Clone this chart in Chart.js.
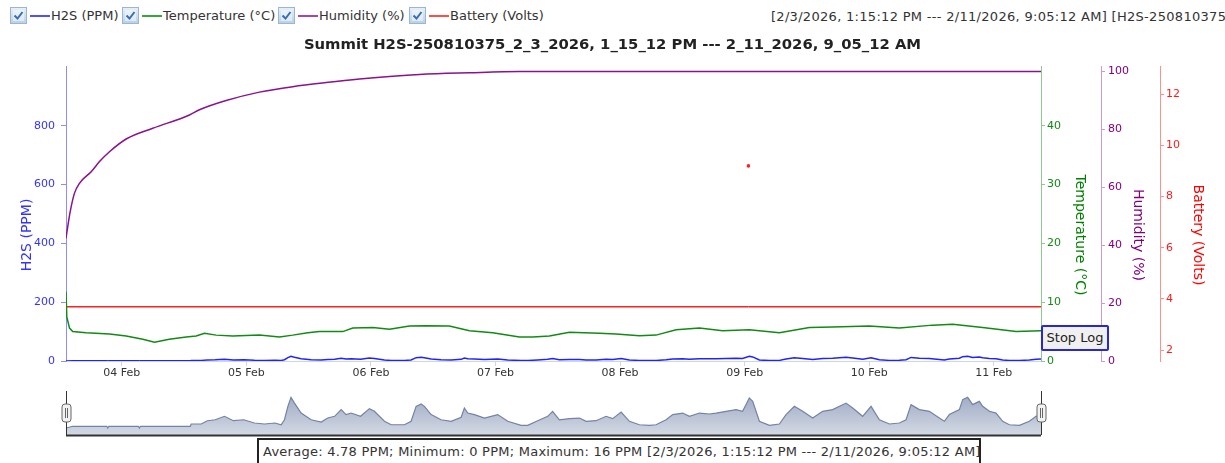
<!DOCTYPE html>
<html>
<head>
<meta charset="utf-8">
<script src="https://cdn.jsdelivr.net/npm/chart.js@4.4.1/dist/chart.umd.min.js"></script>
<style>
html,body{margin:0;padding:0;background:#fff;}
body{width:1225px;height:463px;overflow:hidden;position:relative;font-family:'DejaVu Sans',Verdana,sans-serif;color:#333;}
.li{position:absolute;top:7px;height:17px;display:flex;align-items:center;font-size:13px;white-space:nowrap;}
.cb{width:15px;height:15px;border:1px solid #9db6cf;background:linear-gradient(#e6eff8,#b9d1e9);position:relative;margin-right:3px;flex:none;}
.cb svg{position:absolute;left:0;top:0;}
.ln{width:20px;height:2px;margin-right:1px;flex:none;}
#range{position:absolute;left:771px;top:9px;font-size:13px;line-height:16px;letter-spacing:0.3px;white-space:nowrap;}
#main{position:absolute;left:0;top:0;}
#nav{position:absolute;left:0;top:388px;}
#stats{position:absolute;left:257px;top:438px;width:724px;height:32px;box-sizing:border-box;border:2px solid #222;font-size:13px;line-height:16px;letter-spacing:0.25px;white-space:nowrap;padding:4px 0 0 4px;background:#fff;}
#stop{position:absolute;left:1041px;top:325px;width:68px;height:26px;box-sizing:border-box;border:2px solid #2626e0;border-radius:2px;background:#f0f0f0;font-size:13px;line-height:22px;text-align:center;color:#222;}
</style>
</head>
<body>
<div class="li" style="left:10px"><div class="cb"><svg width="15" height="15"><rect x="2" y="2" width="11" height="11" fill="#f4f8fc" opacity="0.6"/><path d="M3.5 7.5 L6.5 10.5 L11.5 4" stroke="#3b6fb0" stroke-width="2" fill="none"/></svg></div><div class="ln" style="background:#5050ff"></div><span>H2S (PPM)</span></div>
<div class="li" style="left:122px"><div class="cb"><svg width="15" height="15"><rect x="2" y="2" width="11" height="11" fill="#f4f8fc" opacity="0.6"/><path d="M3.5 7.5 L6.5 10.5 L11.5 4" stroke="#3b6fb0" stroke-width="2" fill="none"/></svg></div><div class="ln" style="background:#3aa63a"></div><span>Temperature (°C)</span></div>
<div class="li" style="left:278px"><div class="cb"><svg width="15" height="15"><rect x="2" y="2" width="11" height="11" fill="#f4f8fc" opacity="0.6"/><path d="M3.5 7.5 L6.5 10.5 L11.5 4" stroke="#3b6fb0" stroke-width="2" fill="none"/></svg></div><div class="ln" style="background:#a545b0"></div><span>Humidity (%)</span></div>
<div class="li" style="left:409px"><div class="cb"><svg width="15" height="15"><rect x="2" y="2" width="11" height="11" fill="#f4f8fc" opacity="0.6"/><path d="M3.5 7.5 L6.5 10.5 L11.5 4" stroke="#3b6fb0" stroke-width="2" fill="none"/></svg></div><div class="ln" style="background:#ff4d4d"></div><span>Battery (Volts)</span></div>
<div id="range">[2/3/2026, 1:15:12 PM --- 2/11/2026, 9:05:12 AM] [H2S-250810375]</div>

<canvas id="main" width="1225" height="390"></canvas>
<canvas id="nav" width="1225" height="49"></canvas>
<div id="stats">Average: 4.78 PPM; Minimum: 0 PPM; Maximum: 16 PPM [2/3/2026, 1:15:12 PM --- 2/11/2026, 9:05:12 AM]</div>
<div id="stop">Stop Log</div>

<script>
// ---- time axis (hours since 2/3/2026 00:00) ----
const startHours = 13.253;   // 2/3/2026 1:15:12 PM
const endHours = 201.087;    // 2/11/2026 9:05:12 AM
const xTickHours = [24, 48, 72, 96, 120, 144, 168, 192];
const xTickLabels = ['04 Feb', '05 Feb', '06 Feb', '07 Feb', '08 Feb', '09 Feb', '10 Feb', '11 Feb'];

// ---- axis tick values ----
const h2sTicks = [0, 200, 400, 600, 800];
const tempTicks = [0, 10, 20, 30, 40];
const humTicks = [0, 20, 40, 60, 80, 100];
const battTicks = [2, 4, 6, 8, 10, 12];

// ---- H2S (PPM) ----
const h2sHours = [13.25, 14.56, 21.1, 21.3, 21.5, 27.2, 27.4, 27.6, 37.2, 37.37, 39.3, 40.5, 42.0, 43.78, 45.5, 47.5, 49.56, 51.5, 53.5, 54.7, 55.34, 56.0, 56.6, 57.27, 58.55, 60.48, 62.4, 63.68, 65.0, 66.26, 67.2, 68.19, 70.0, 71.7, 72.67, 74.6, 75.9, 78.45, 79.74, 80.7, 81.67, 82.3, 83.6, 85.5, 87.45, 89.38, 90.0, 90.65, 91.94, 93.86, 96.43, 98.35, 100.93, 102.2, 104.13, 106.06, 107.0, 108.3, 110.24, 112.17, 113.45, 115.38, 117.3, 118.58, 120.2, 121.8, 123.72, 125.65, 126.93, 128.86, 130.14, 132.06, 133.35, 135.28, 137.2, 138.5, 140.42, 142.35, 143.6, 144.9, 145.55, 146.83, 148.76, 150.69, 151.97, 153.57, 155.18, 157.1, 159.03, 160.95, 163.53, 164.81, 166.73, 168.35, 169.95, 171.88, 173.8, 175.09, 176.05, 177.65, 179.58, 181.5, 182.47, 183.43, 185.36, 186.0, 186.96, 187.92, 189.2, 189.85, 191.14, 192.42, 193.7, 194.99, 196.92, 198.84, 200.13, 201.09];
const h2sValues = [0, 0.9, 0.9, 0, 0.9, 0.9, 0, 0.9, 0.9, 2.1, 2.1, 3.8, 4.3, 6.1, 3.8, 4.3, 2.6, 2.1, 2.6, 1.7, 4.3, 11.3, 16, 13, 7.8, 4.3, 3.1, 5.2, 6.1, 9.6, 7, 7.8, 6.1, 10.1, 8.7, 3.5, 1.7, 1.7, 3.5, 11.3, 12.5, 11.3, 7, 4.3, 3.5, 5.6, 10.4, 7.8, 7, 5.2, 7, 3.5, 1.4, 1.4, 3.8, 6.1, 8.7, 4.3, 4.9, 5.2, 3.5, 3.8, 6.1, 4.9, 8.3, 3.5, 1.7, 1.4, 1.7, 4.3, 7, 7.8, 6.1, 7.8, 7.3, 7.8, 8.7, 9.6, 8.7, 15.7, 13.9, 3.5, 1.4, 2.1, 7, 11.3, 8.7, 5.2, 8.7, 9.6, 13, 10.4, 6.1, 11.3, 4.3, 2.1, 2.6, 4.3, 12.2, 9.6, 8.7, 5.2, 3.5, 7, 9.6, 14.8, 16, 12.2, 13.9, 11.3, 8.7, 7.8, 3.5, 1.7, 1.4, 3.5, 6.1, 7];

// ---- Temperature (°C) ----
const tempHours = [13.25, 13.41, 13.93, 14.56, 17.14, 21.63, 24.85, 28.05, 30.3, 33.14, 36.4, 38.33, 39.93, 42.18, 45.38, 50.52, 54.38, 56.94, 59.83, 62.08, 66.57, 68.5, 72.35, 75.57, 79.42, 82.63, 87.12, 90.97, 95.46, 100.61, 103.17, 106.38, 110.24, 116.0, 119.23, 123.72, 126.93, 130.79, 135.28, 139.76, 144.9, 150.69, 156.47, 160.95, 168.0, 173.8, 180.2, 184.07, 189.84, 196.28, 201.09];
const tempValues = [11.8, 7.5, 5.6, 5.0, 4.8, 4.6, 4.25, 3.7, 3.2, 3.7, 4.1, 4.25, 4.7, 4.4, 4.25, 4.4, 4.1, 4.4, 4.8, 5.0, 5.0, 5.6, 5.7, 5.4, 5.95, 6.0, 5.95, 5.15, 4.8, 4.1, 4.1, 4.25, 4.9, 4.7, 4.6, 4.3, 4.4, 5.3, 5.6, 5.15, 5.3, 4.8, 5.7, 5.8, 5.95, 5.6, 6.1, 6.25, 5.7, 5.0, 5.15];

// ---- Humidity (%) ----
const humHours = [13.25, 14.0, 14.89, 15.85, 18.1, 19.71, 21.63, 24.85, 29.97, 37.04, 38.96, 44.1, 50.52, 56.94, 63.37, 69.79, 81.35, 90.98, 100.6, 201.09];
const humValues = [42.4, 51.0, 58.0, 61.4, 65.4, 68.9, 72.3, 76.7, 80.4, 85.0, 86.8, 90.0, 92.9, 94.8, 96.2, 97.4, 99.0, 99.6, 100, 100];

// ---- Battery (Volts) ----
const battHours = [13.25, 144.72, 144.72, 144.72, 201.09];
const battValues = [3.69, 3.69, 9.2, 3.69, 3.69];

// ---- helpers ----
const pts = (xs, ys) => xs.map((x, i) => ({x: x, y: ys[i]}));
const battOutlier = battValues.indexOf(Math.max(...battValues));
Chart.defaults.font.family = "'DejaVu Sans', Verdana, sans-serif";

function yAxis(o) {
  return {
    type: 'linear', position: o.pos, min: o.min, max: o.max, weight: o.weight,
    grid: {drawOnChartArea: false, color: o.axisColor, tickLength: o.tickLen, lineWidth: 1},
    border: {display: true, color: o.axisColor, width: 1},
    ticks: {color: o.labelColor, font: {size: 11}, padding: o.pad, autoSkip: false},
    afterBuildTicks: s => { s.ticks = o.ticks.map(v => ({value: v})); },
    afterFit: s => { s.width = o.width; }
  };
}

const axisTitles = {
  id: 'axisTitles',
  afterDraw(chart) {
    const {ctx, chartArea, scales} = chart;
    const cy = (chartArea.top + chartArea.bottom) / 2 + 21;
    const items = [
      {x: scales.yH2S.right - 38.5, t: 'H2S (PPM)', c: '#3333ff', r: -Math.PI / 2},
      {x: scales.yTemp.left + 39, t: 'Temperature (°C)', c: '#008000', r: Math.PI / 2},
      {x: scales.yHum.left + 37, t: 'Humidity (%)', c: '#800080', r: Math.PI / 2},
      {x: scales.yBatt.left + 38, t: 'Battery (Volts)', c: '#ff0000', r: Math.PI / 2}
    ];
    ctx.save();
    ctx.font = "14px 'DejaVu Sans', Verdana, sans-serif";
    ctx.textAlign = 'center';
    ctx.textBaseline = 'middle';
    for (const it of items) {
      ctx.save();
      ctx.translate(it.x, cy);
      ctx.rotate(it.r);
      ctx.fillStyle = it.c;
      ctx.fillText(it.t, 0, 0);
      ctx.restore();
    }
    ctx.restore();
  }
};

new Chart(document.getElementById('main'), {
  type: 'line',
  data: {
    datasets: [
      {label: 'H2S (PPM)', data: pts(h2sHours, h2sValues), yAxisID: 'yH2S', borderColor: '#2222ff', borderWidth: 1.5, pointRadius: 0, tension: 0, fill: false},
      {label: 'Temperature (°C)', data: pts(tempHours, tempValues), yAxisID: 'yTemp', borderColor: '#138a13', borderWidth: 1.5, pointRadius: 0, tension: 0, fill: false},
      {label: 'Humidity (%)', data: pts(humHours, humValues), yAxisID: 'yHum', borderColor: '#8a128a', borderWidth: 1.5, pointRadius: 0, tension: 0.3, cubicInterpolationMode: 'monotone', fill: false},
      {label: 'Battery (Volts)', data: pts(battHours, battValues), yAxisID: 'yBatt', borderColor: '#ff2020', backgroundColor: '#ff2020', borderWidth: 1.5, tension: 0, fill: false,
        pointRadius: c => c.dataIndex === battOutlier ? 1.8 : 0, pointBorderWidth: 0,
        segment: {borderColor: c => (c.p0DataIndex === battOutlier || c.p1DataIndex === battOutlier) ? 'rgba(0,0,0,0)' : undefined}}
    ]
  },
  options: {
    responsive: false, animation: false, events: [],
    layout: {padding: {left: 0, right: 0, top: 0, bottom: 0}},
    plugins: {
      legend: {display: false}, tooltip: {enabled: false},
      title: {display: true, text: 'Summit H2S-250810375_2_3_2026, 1_15_12 PM --- 2_11_2026, 9_05_12 AM', color: '#222', font: {size: 14.8, weight: 'bold'}, padding: {top: 36.1, bottom: 13.1}}
    },
    scales: {
      x: {
        type: 'linear', position: 'bottom', min: startHours, max: endHours,
        grid: {drawOnChartArea: false, color: '#ccd6eb', tickLength: 5},
        border: {display: true, color: '#ccd6eb'},
        ticks: {color: '#333', font: {size: 11}, padding: 1, maxRotation: 0, autoSkip: false,
          callback: v => { const i = xTickHours.indexOf(v); return i >= 0 ? xTickLabels[i] : ''; }},
        afterBuildTicks: s => { s.ticks = xTickHours.map(v => ({value: v})); },
        afterFit: s => { s.height = 29; }
      },
      yH2S: yAxis({pos: 'left', min: 0, max: 1000, weight: 0, axisColor: '#8c8cff', labelColor: '#3333ff', tickLen: 5, pad: 6, ticks: h2sTicks, width: 66}),
      yTemp: yAxis({pos: 'right', min: 0, max: 50, weight: 0, axisColor: '#90c890', labelColor: '#138a13', tickLen: 4, pad: 2, ticks: tempTicks, width: 60}),
      yHum: yAxis({pos: 'right', min: 0, max: 101.6, weight: 1, axisColor: '#cc9acc', labelColor: '#800080', tickLen: 4, pad: 3, ticks: humTicks, width: 59}),
      yBatt: yAxis({pos: 'right', min: 1.57, max: 13.07, weight: 2, axisColor: '#ff9090', labelColor: '#ff1a1a', tickLen: 4, pad: 2, ticks: battTicks, width: 65})
    }
  },
  plugins: [axisTitles]
});

// ---- navigator ----
const navDecor = {
  id: 'navDecor',
  afterDraw(chart) {
    const {ctx, chartArea} = chart;
    const L = chartArea.left, R = chartArea.right, T = chartArea.top, B = chartArea.bottom;
    ctx.save();
    ctx.strokeStyle = '#333';
    ctx.lineWidth = 2;
    ctx.beginPath(); ctx.moveTo(L, B + 0.5); ctx.lineTo(R, B + 0.5); ctx.stroke();
    ctx.lineWidth = 1;
    for (const x of [L, R]) {
      ctx.strokeStyle = '#333';
      ctx.beginPath(); ctx.moveTo(x + 0.5, T); ctx.lineTo(x + 0.5, B); ctx.stroke();
      const hx = x - 4, hy = 16, hw = 9, hh = 18, r = 3;
      ctx.beginPath();
      ctx.moveTo(hx + r, hy); ctx.lineTo(hx + hw - r, hy); ctx.quadraticCurveTo(hx + hw, hy, hx + hw, hy + r);
      ctx.lineTo(hx + hw, hy + hh - r); ctx.quadraticCurveTo(hx + hw, hy + hh, hx + hw - r, hy + hh);
      ctx.lineTo(hx + r, hy + hh); ctx.quadraticCurveTo(hx, hy + hh, hx, hy + hh - r);
      ctx.lineTo(hx, hy + r); ctx.quadraticCurveTo(hx, hy, hx + r, hy);
      ctx.closePath();
      ctx.fillStyle = '#f2f2f2'; ctx.fill();
      ctx.strokeStyle = '#666'; ctx.stroke();
      ctx.beginPath();
      ctx.moveTo(hx + 3.5, hy + 4); ctx.lineTo(hx + 3.5, hy + hh - 4);
      ctx.moveTo(hx + 5.5, hy + 4); ctx.lineTo(hx + 5.5, hy + hh - 4);
      ctx.stroke();
    }
    ctx.restore();
  }
};

new Chart(document.getElementById('nav'), {
  type: 'line',
  data: {
    datasets: [{
      data: pts(h2sHours, h2sValues), borderColor: '#7383a6', borderWidth: 1.2, pointRadius: 0, tension: 0, fill: 'start',
      backgroundColor: c => {
        const ch = c.chart; const a = ch.chartArea;
        if (!a) return 'rgba(170,180,200,0.8)';
        const g = ch.ctx.createLinearGradient(0, a.top, 0, a.bottom);
        g.addColorStop(0, '#9aa6c0'); g.addColorStop(1, '#d3d9e4');
        return g;
      }
    }]
  },
  options: {
    responsive: false, animation: false, events: [],
    layout: {padding: {left: 66, right: 184, top: 3, bottom: 2}},
    plugins: {legend: {display: false}, tooltip: {enabled: false}},
    scales: {
      x: {type: 'linear', display: false, min: startHours, max: endHours},
      y: {type: 'linear', display: false, min: -3.65, max: 19.3}
    }
  },
  plugins: [navDecor]
});
</script>
</body>
</html>
